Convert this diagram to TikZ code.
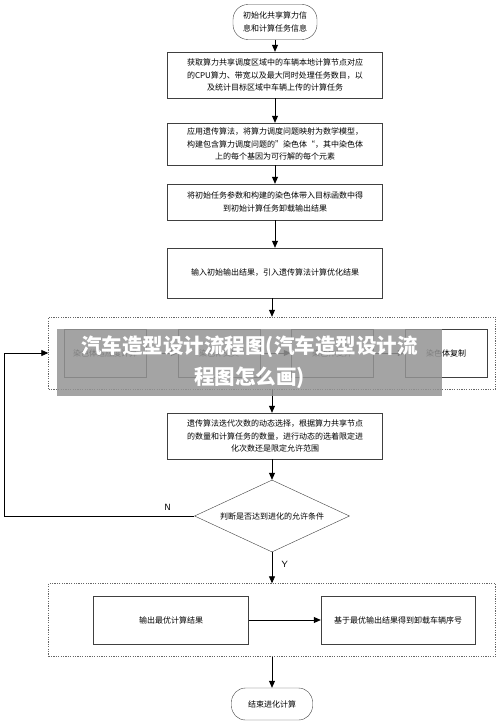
\documentclass[tikz,border=0pt]{standalone}
\usepackage{fontspec}
\newfontfamily\cjk{Noto Sans CJK SC}
\usetikzlibrary{arrows.meta,shapes.geometric}

\tikzset{
	base/.style={draw=black!75, fill=white, align=center, inner sep=2pt,
		font=\cjk\fontsize{8}{12.5}\selectfont},
	box/.style={base, minimum width=215pt},
	subbox/.style={base, minimum width=82pt, minimum height=48pt},
	term/.style={base, rounded corners=15pt, minimum width=84pt},
	decide/.style={base, diamond, aspect=2.15, minimum width=155pt, minimum height=72pt, inner sep=0pt},
	group/.style={draw=black!60, dashed, dash pattern=on 1.2pt off 1.2pt, minimum width=447pt, minimum height=72pt},
	arr/.style={-{Triangle[length=7pt,width=6pt]}, line width=0.8pt},
	lab/.style={font=\sffamily\fontsize{9}{10}\selectfont}
}

\begin{document}
\begin{tikzpicture}[x=1pt, y=-1pt]
	\useasboundingbox (0,0) rectangle (500,725);
	%%%%% START %%%%%
	\node[term, minimum height=35pt] (init) at (275,22) {初始化共享算力信\\息和计算任务信息};
	\node[box, minimum height=46pt] (fetch) at (275,75) {获取算力共享调度区域中的车辆本地计算节点对应\\的CPU算力、带宽以及最大同时处理任务数目，以\\及统计目标区域中车辆上传的计算任务};
	\node[box, minimum height=42pt] (model) at (275,144) {应用遗传算法，将算力调度问题映射为数学模型，\\构建包含算力调度问题的”染色体“，其中染色体\\上的每个基因为可行解的每个元素};
	\node[box, minimum height=36pt] (first) at (275,202) {将初始任务参数和构建的染色体带入目标函数中得\\到初始计算任务卸载输出结果};
	\node[box, minimum height=50pt] (ga) at (275,273) {输入初始输出结果，引入遗传算法计算优化结果};
	
	% genetic operations
	\node[group] (ops) at (272,353) {};
	\node[subbox] (fit) at (105,353) {染色体适应度计算};
	\node[subbox] (cross) at (219,353) {染色体交叉};
	\node[subbox] (mut) at (332,353) {染色体变异};
	\node[subbox] (copy) at (446,353) {染色体复制};
	\draw[arr] (fit) -- (cross);
	\draw[arr] (cross) -- (mut);
	\draw[arr] (mut) -- (copy);
	
	\node[box, minimum height=46pt] (iter) at (275,436) {遗传算法迭代次数的动态选择，根据算力共享节点\\的数量和计算任务的数量，进行动态的选着限定进\\化次数还是限定允许范围};
	\node[decide] (check) at (272,516) {判断是否达到进化的允许条件};
	
	% output
	\node[group, minimum height=73pt] (out) at (272,620) {};
	\node[base, minimum width=155pt, minimum height=48pt] (best) at (171,620) {输出最优计算结果};
	\node[base, minimum width=154pt, minimum height=48pt] (seq) at (398,620) {基于最优输出结果得到卸载车辆序号};
	\draw[arr] (best) -- (seq);
	
	\node[term, minimum width=81pt, minimum height=32pt, rounded corners=14pt] (stop) at (272,704) {结束进化计算};
	
	% main flow
	\draw[arr] (init) -- (fetch);
	\draw[arr] (fetch) -- (model);
	\draw[arr] (model) -- (first);
	\draw[arr] (first) -- (ga);
	\draw[arr] (ga.south -| ops.north) -- (ops);
	\draw[arr] (ops) -- (iter.north -| ops.south);
	\draw[arr] (iter.south -| check.north) -- (check);
	\draw[arr] (check) -- (out) node[lab, pos=0.38, right=6pt] {Y};
	\draw[arr] (out) -- (stop);
	\draw[arr] (check.west) -- ++(-190,0) node[lab, pos=0.14, above=2pt] {N} |- (ops.west);
	
	% banner
	\node[fill=black!42, fill opacity=0.85, text opacity=1, text=white, minimum width=385pt, minimum height=67pt,
		align=center, font=\cjk\bfseries\fontsize{20.5}{31}\selectfont, inner sep=0pt] (banner) at (249.5,362.5)
		{汽车造型设计流程图(汽车造型设计流\\程图怎么画)};
	%%%%% END %%%%%
\end{tikzpicture}
\end{document}
